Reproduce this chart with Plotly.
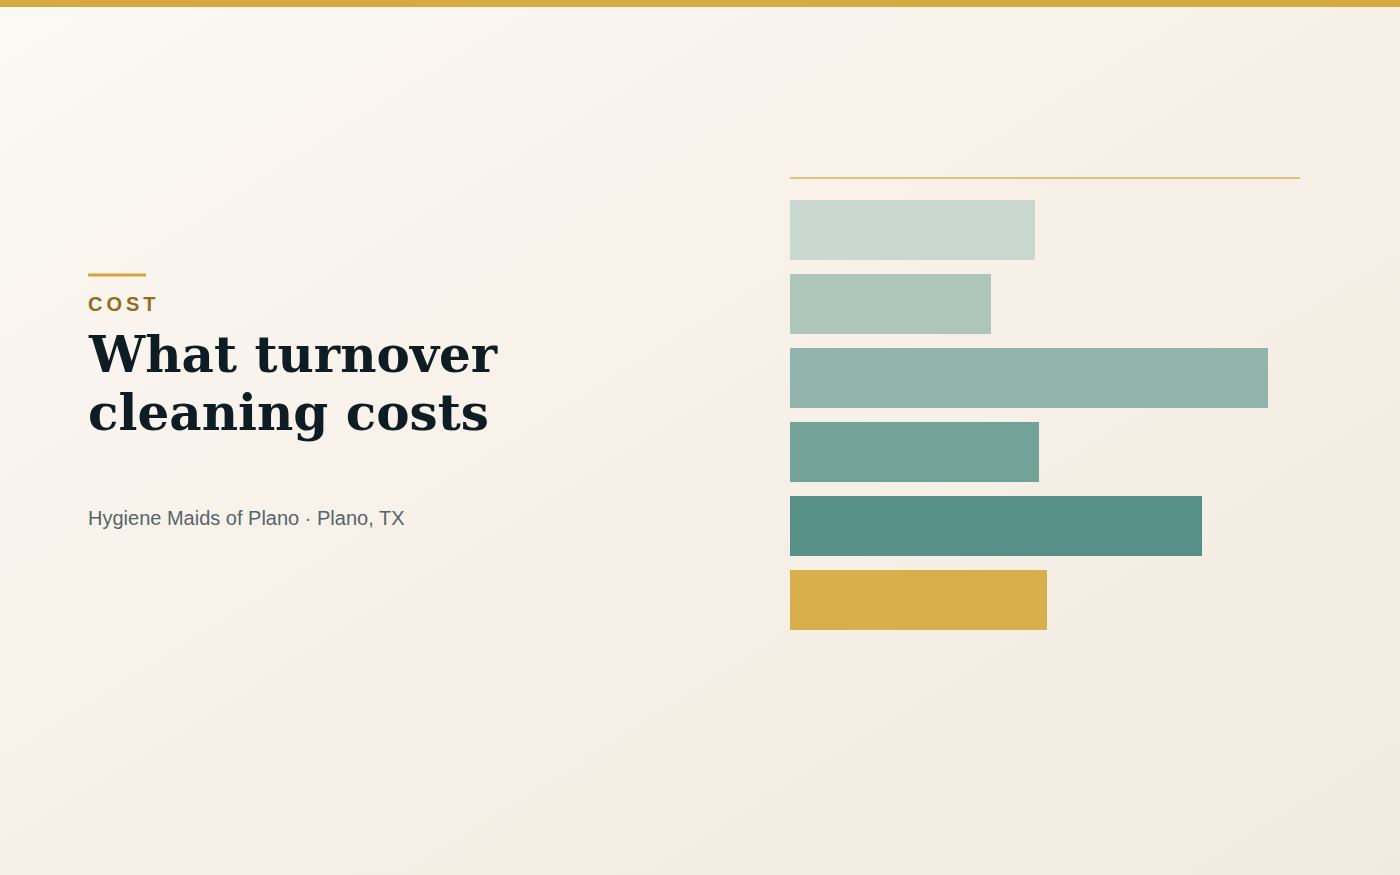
import base64
import plotly.graph_objects as go

W, H = 1400, 875

# bar data (no labels shown in the reference, lengths)
tiers = ["Tier 1", "Tier 2", "Tier 3", "Tier 4", "Tier 5", "Tier 6"]
costs = [245, 201, 478, 249, 412, 257]
bar_colors = ["#cbd8cf", "#adc5ba", "#91b4aa", "#73a298", "#579087", "#d8af4a"]
axis_max = 510

kicker = "COST"
title_lines = ["What turnover", "cleaning costs"]
subtitle = "Hygiene Maids of Plano · Plano, TX"


def px_x(x):
    return x / W


def px_y(y):
    return 1 - y / H


# soft diagonal background gradient as an svg image
svg = (
    '<svg xmlns="http://www.w3.org/2000/svg" width="1400" height="875">'
    '<defs><linearGradient id="g" x1="0" y1="0" x2="1" y2="1">'
    '<stop offset="0" stop-color="#fbf9f3"/>'
    '<stop offset="0.5" stop-color="#f7f0e8"/>'
    '<stop offset="1" stop-color="#f0ebe1"/>'
    '</linearGradient></defs>'
    '<rect width="1400" height="875" fill="url(#g)"/></svg>'
)
bg_src = "data:image/svg+xml;base64," + base64.b64encode(svg.encode()).decode()

fig = go.Figure(go.Bar(
    x=costs,
    y=list(range(len(tiers))),
    orientation="h",
    marker=dict(color=bar_colors, line=dict(width=0)),
    width=60 / 74,
    hovertext=tiers,
    hoverinfo="text+x",
))

fig.update_layout(
    width=W, height=H,
    margin=dict(l=0, r=0, t=0, b=0),
    paper_bgcolor="#f7f2ea",
    plot_bgcolor="rgba(0,0,0,0)",
    showlegend=False,
    xaxis=dict(domain=[px_x(790), px_x(1300)], range=[0, axis_max],
               visible=False, fixedrange=True),
    yaxis=dict(domain=[px_y(637), px_y(193)], range=[5.5, -0.5],
               visible=False, fixedrange=True),
    images=[dict(source=bg_src, xref="paper", yref="paper", x=0, y=1,
                 sizex=1, sizey=1, sizing="stretch", layer="below",
                 xanchor="left", yanchor="top")],
)

# top gold band, accent rule and rule above the bars
fig.add_shape(type="rect", xref="paper", yref="paper",
              x0=0, x1=1, y0=px_y(7), y1=1,
              fillcolor="#d6aa3e", line=dict(width=0))
fig.add_shape(type="line", xref="paper", yref="paper",
              x0=px_x(88), x1=px_x(146), y0=px_y(275), y1=px_y(275),
              line=dict(color="#d3a53c", width=3))
fig.add_shape(type="line", xref="paper", yref="paper",
              x0=px_x(790), x1=px_x(1300), y0=px_y(178), y1=px_y(178),
              line=dict(color="#e0c27c", width=2))

fig.add_annotation(x=px_x(86), y=px_y(304), xref="paper", yref="paper",
                   xanchor="left", yanchor="middle", showarrow=False,
                   text="<b>" + "\u2009".join(kicker) + "</b>",
                   font=dict(family="Liberation Sans, Arial, sans-serif",
                             size=20, color="#946c1c"))
for i, line in enumerate(title_lines):
    fig.add_annotation(x=px_x(86), y=px_y(354 + i * 58), xref="paper", yref="paper",
                       xanchor="left", yanchor="middle", showarrow=False,
                       text="<b>" + line + "</b>",
                       font=dict(family="DejaVu Serif, Georgia, serif",
                                 size=50, color="#0e1d24"))
fig.add_annotation(x=px_x(86), y=px_y(518), xref="paper", yref="paper",
                   xanchor="left", yanchor="middle", showarrow=False,
                   text=subtitle,
                   font=dict(family="Liberation Sans, Arial, sans-serif",
                             size=20, color="#55656a"))

# page body has a default margin; drop it so the figure fills the window
fig.write_html("out.html", config={"displayModeBar": False},
               post_script="document.body.style.margin='0';")
